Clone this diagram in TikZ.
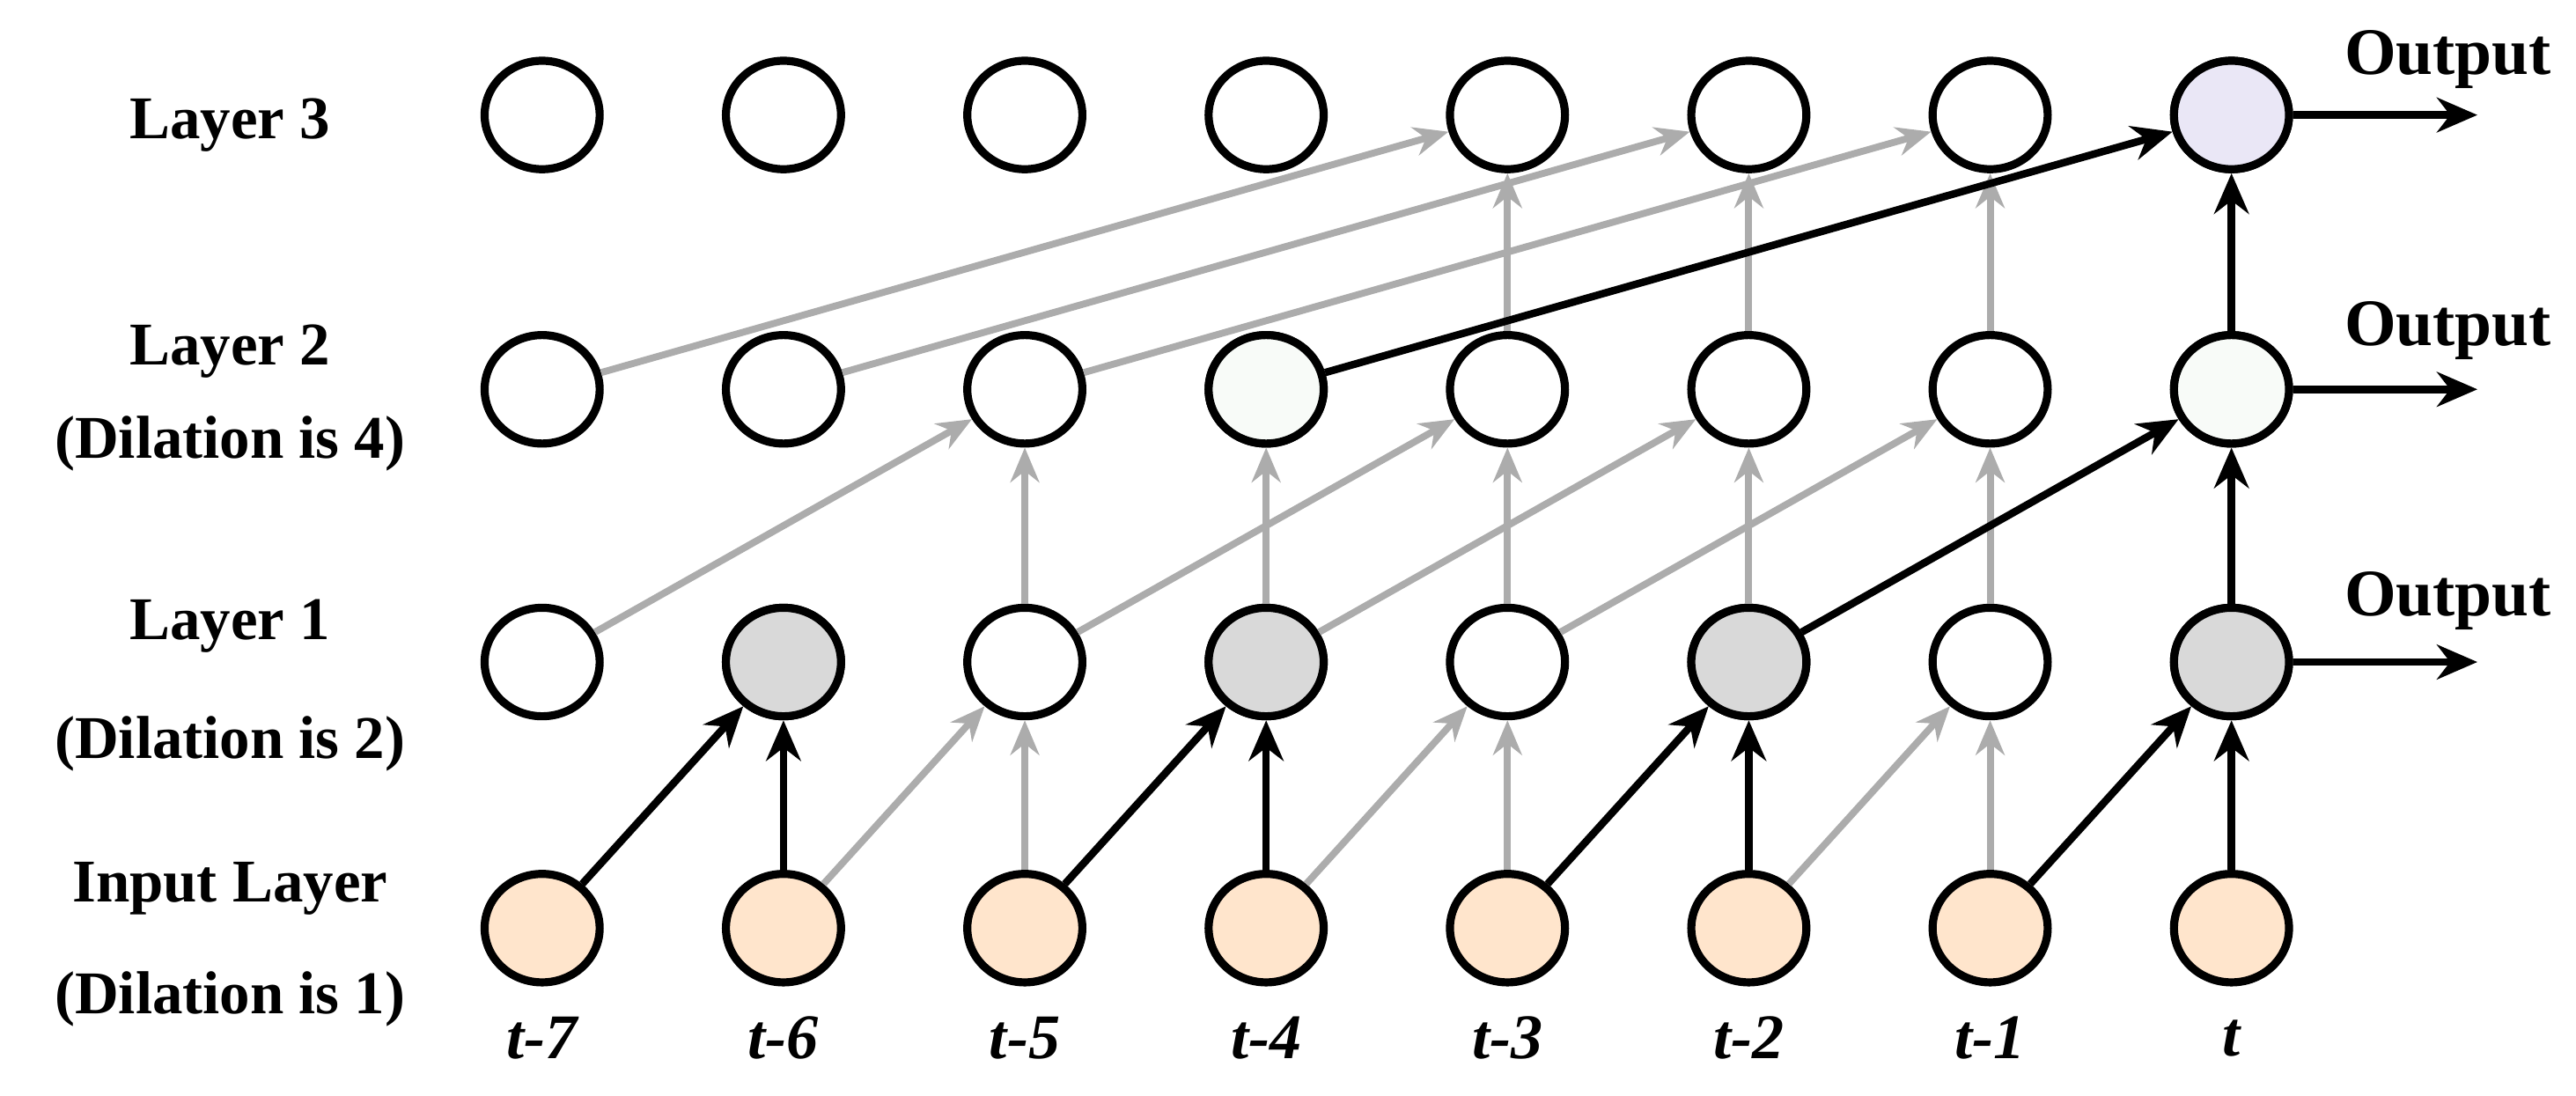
\documentclass[tikz,border=0pt]{standalone}
\usepackage{fontspec}
\setmainfont{Liberation Serif}
\usetikzlibrary{arrows.meta, positioning, shapes.geometric}

\begin{document}
\begin{tikzpicture}[
	x=0.01cm, y=-0.01cm,
	unit/.style={ellipse, draw=black, line width=1.4pt, minimum width=0.7cm,
		minimum height=0.66cm, inner sep=0pt, fill=white},
	inunit/.style={unit, fill=orange!20!white},
	hidunit/.style={unit, fill=gray!30},
	midunit/.style={unit, fill=green!20!white!70!gray!10},
	topunit/.style={unit, fill=cyan!10!blue!8},
	faint/.style={-{Stealth[length=6pt,width=5pt]}, line width=1.2pt, color=gray!65},
	strong/.style={-{Stealth[length=7pt,width=6pt]}, line width=1.3pt, color=black},
	lbl/.style={font=\fontsize{10.5}{12}\selectfont\bfseries, align=center},
	tlbl/.style={font=\fontsize{11}{12}\selectfont\bfseries\itshape}
	]
	\useasboundingbox (0,0) rectangle (1568,667);
	
	% Rows of units
	\foreach \i/\t in {1/t-7,2/t-6,3/t-5,4/t-4,5/t-3,6/t-2,7/t-1,8/t} {
		\pgfmathsetmacro{\xx}{330+146.9*(\i-1)}
		\node[inunit] (in\i) at (\xx,565) {};
		\node[unit] (la\i) at (\xx,403) {};
		\node[unit] (lb\i) at (\xx,237) {};
		\node[unit] (lc\i) at (\xx,70) {};
		\node[tlbl] (tt\i) at (\xx,632) {\t};
	}
	\foreach \i in {2,4,6,8} {\node[hidunit] at (la\i) {};}
	\node[midunit] at (lb4) {};
	\node[midunit] at (lb8) {};
	\node[topunit] at (lc8) {};
	
	% Layer names
	\node[lbl] (n3) at (140,76) {Layer 3};
	\node[lbl] (n2a) at (140,214) {Layer 2};
	\node[lbl] (n2b) at (140,270) {(Dilation is 4)};
	\node[lbl] (n1a) at (140,381) {Layer 1};
	\node[lbl] (n1b) at (140,453) {(Dilation is 2)};
	\node[lbl] (n0a) at (140,541) {Input Layer};
	\node[lbl] (n0b) at (140,608) {(Dilation is 1)};
	
	% Input layer to layer 1
	\foreach \i/\j in {2/3,4/5,6/7} {
		\draw[faint] (in\i) -- (la\j);
		\draw[faint] (in\j) -- (la\j);
	}
	\foreach \i/\j in {1/2,3/4,5/6,7/8} {
		\draw[strong] (in\i) -- (la\j);
		\draw[strong] (in\j) -- (la\j);
	}
	
	% Layer 1 to layer 2
	\foreach \i/\j in {1/3,3/5,4/6,5/7} {\draw[faint] (la\i) -- (lb\j);}
	\foreach \i in {3,4,5,6,7} {\draw[faint] (la\i) -- (lb\i);}
	\draw[strong] (la6) -- (lb8);
	\draw[strong] (la8) -- (lb8);
	
	% Layer 2 to layer 3
	\foreach \i/\j in {1/5,2/6,3/7} {
		\draw[faint] (lb\i) -- (lc\j);
		\draw[faint] (lb\j) -- (lc\j);
	}
	\draw[strong] (lb4) -- (lc8);
	\draw[strong] (lb8) -- (lc8);
	
	% Outputs
	\coordinate (xo) at (1508,0);
	\foreach \r/\yy in {lc/36,lb/201,la/366} {
		\coordinate (\r out) at (\r8 -| xo);
		\draw[strong] (\r8) -- (\r out);
		\node[lbl, font=\fontsize{11.5}{12}\selectfont\bfseries] at (1490,\yy) {Output};
	}
\end{tikzpicture}
\end{document}
